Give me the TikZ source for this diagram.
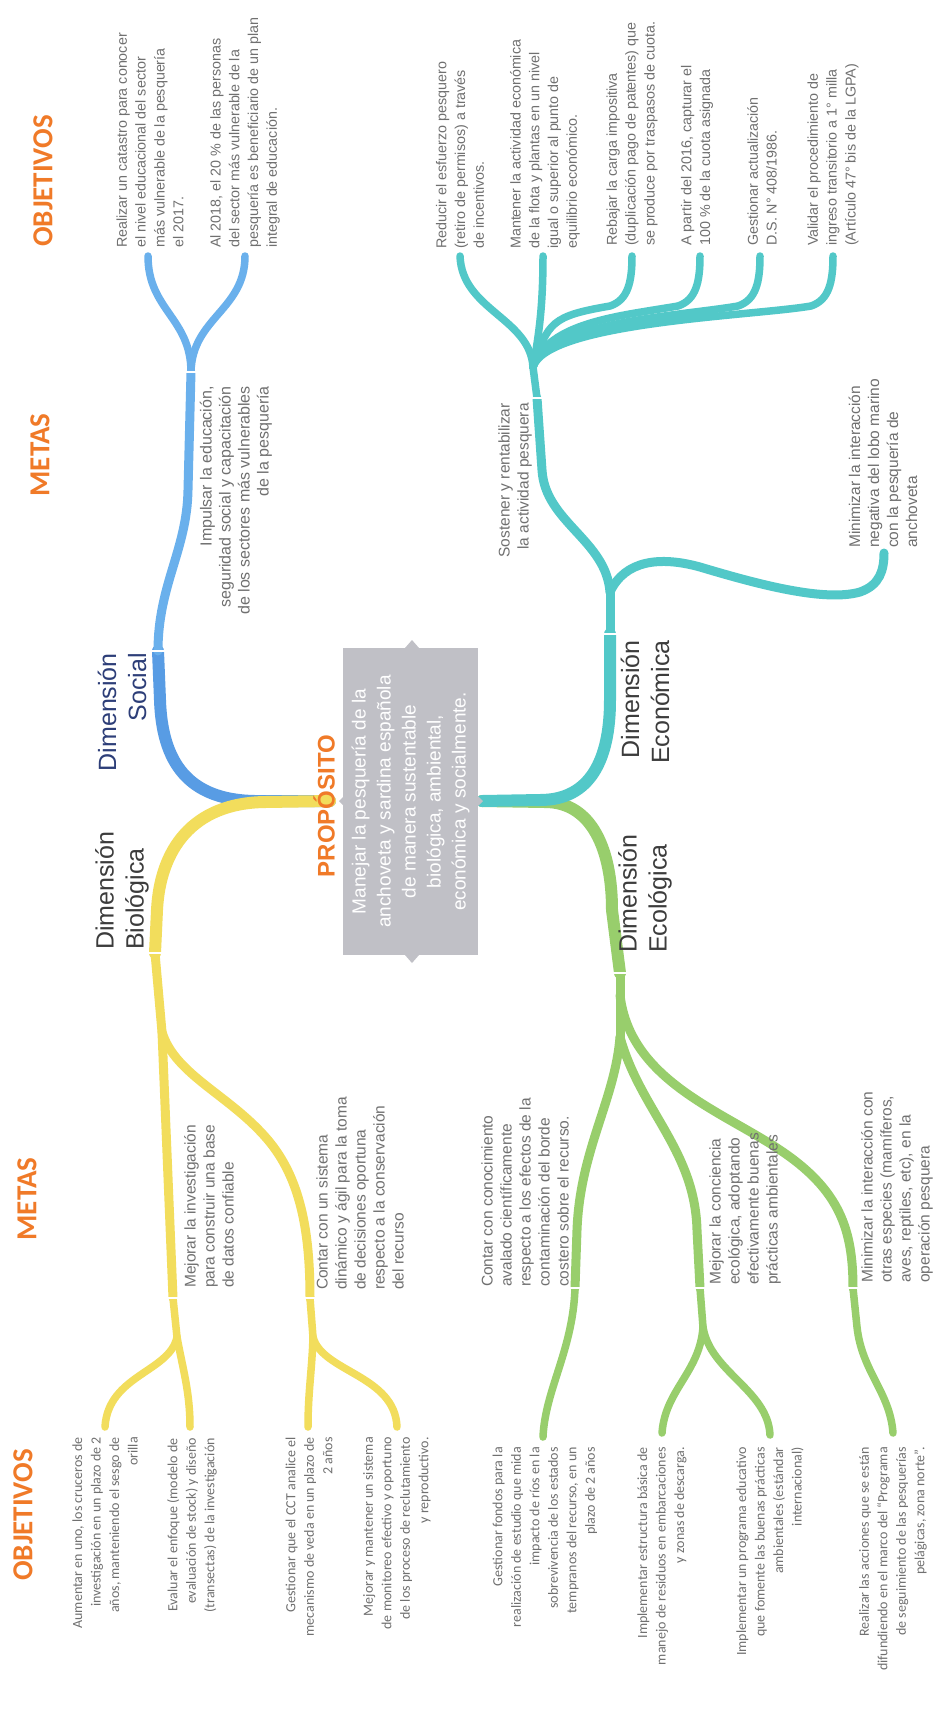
\documentclass[tikz,border=0pt]{standalone}
\usepackage{fontspec}
\usetikzlibrary{calc}
\setmainfont{Liberation Sans}
\newfontfamily\calib{Carlito}
\definecolor{orng}{RGB}{240,122,40}
\definecolor{blueA}{RGB}{88,156,228}
\definecolor{blueB}{RGB}{106,176,236}
\definecolor{yel}{RGB}{242,221,92}
\definecolor{grn}{RGB}{152,206,108}
\definecolor{teal2}{RGB}{82,200,200}
\definecolor{boxgray}{RGB}{192,192,198}
\definecolor{txtgray}{RGB}{112,112,112}
\definecolor{dimgray}{RGB}{60,60,60}
\definecolor{navy2}{RGB}{45,62,120}
\tikzset{
  brD/.style={line width=12pt, line cap=round},
  brM/.style={line width=9pt, line cap=round},
  brO/.style={line width=7.5pt, line cap=round},
  mk/.style={draw=white, line width=1.6pt},
  hdr/.style={rotate=90, inner sep=0pt, text=orng, font=\calib\bfseries\fontsize{29}{33}\selectfont},
  dimtxt/.style={rotate=90, inner sep=0pt, text=dimgray, font=\fontsize{25}{30}\selectfont},
  metatxt/.style={rotate=90, inner sep=0pt, text=txtgray, font=\fontsize{15.5}{19}\selectfont},
  objA/.style={rotate=90, inner sep=0pt, text=txtgray, font=\fontsize{14.3}{18.8}\selectfont},
  objC/.style={rotate=90, inner sep=0pt, text=txtgray, font=\calib\fontsize{14}{18.5}\selectfont},
  tri/.style={fill=boxgray, draw=none},
}
\begin{document}
\begin{tikzpicture}[x=1pt,y=-1pt]
\useasboundingbox (0,0) rectangle (947,1711);
\fill[white] (0,0) rectangle (947,1711);

% ---------- key points ----------
\coordinate (cL) at (330,801);
\coordinate (cR) at (482,801);
\coordinate (mSoc) at (158,651);
\coordinate (sSoc) at (191,372);
\coordinate (eS1) at (148,256);
\coordinate (eS2) at (245,256);
\coordinate (mBio) at (155,953);
\coordinate (sBio) at (162,1032);
\coordinate (mB1) at (173,1298);
\coordinate (sB1) at (177,1337);
\coordinate (mB2) at (310,1298);
\coordinate (sB2) at (313,1337);
\coordinate (eB1) at (105,1427);
\coordinate (eB2) at (190,1427);
\coordinate (eB3) at (308,1427);
\coordinate (eB4) at (397,1427);
\coordinate (mEco) at (620,973);
\coordinate (sEco) at (620,1037);
\coordinate (sEco0) at (620,995);
\coordinate (mG1) at (575,1288);
\coordinate (mG2) at (700,1288);
\coordinate (sG2) at (703,1327);
\coordinate (mG3) at (853,1288);
\coordinate (sG3) at (857,1327);
\coordinate (eG1) at (543,1437);
\coordinate (eG2) at (662,1433);
\coordinate (eG3) at (770,1435);
\coordinate (eG4) at (893,1433);
\coordinate (mEcon) at (610,634);
\coordinate (sEcon) at (610,592);
\coordinate (mT1) at (537,398);
\coordinate (sT1) at (533,367);
\coordinate (eT0) at (884,553);
\coordinate (eT1) at (460,256);
\coordinate (eT2) at (543,256);
\coordinate (eT3) at (632,256);
\coordinate (eT4) at (700,256);
\coordinate (eT5) at (760,256);
\coordinate (eT6) at (833,256);

% ---------- Social (blue) ----------
\draw[brD, blueA] (cL) -- (255,801) .. controls (188,800) and (162,762) .. (160,700) -- (mSoc);
\draw[brM, blueB] (mSoc) .. controls (158,585) and (187,550) .. (188,490) -- (sSoc);
\draw[brO, blueB] (sSoc) .. controls (191,318) and (148,310) .. (eS1);
\draw[brO, blueB] (sSoc) .. controls (192,318) and (245,310) .. (eS2);

% ---------- Biologica (yellow) ----------
\draw[brD, yel] (cL) -- (265,802) .. controls (192,803) and (160,850) .. (157,910) -- (mBio);
\draw[brM, yel] (mBio) -- (sBio);
\draw[brM, yel] (sBio) -- (mB1);
\draw[brM, yel] (sBio) .. controls (175,1075) and (230,1095) .. (268,1140) .. controls (300,1178) and (310,1230) .. (mB2);
\draw[brO, yel] (mB1) -- (sB1);
\draw[brO, yel] (sB1) .. controls (170,1372) and (108,1375) .. (eB1);
\draw[brO, yel] (sB1) .. controls (183,1370) and (190,1392) .. (eB2);
\draw[brO, yel] (mB2) -- (sB2);
\draw[brO, yel] (sB2) .. controls (312,1370) and (308,1392) .. (eB3);
\draw[brO, yel] (sB2) .. controls (322,1372) and (395,1375) .. (eB4);

% ---------- Ecologica (green) ----------
\draw[brD, grn] (cR) -- (545,802) .. controls (592,802) and (612,850) .. (612,910) -- (mEco);
\draw[brM, grn] (mEco) -- (sEco);
\draw[brM, grn] (sEco) .. controls (615,1100) and (580,1150) .. (577,1230) -- (mG1);
\draw[brM, grn] (sEco) .. controls (640,1110) and (695,1150) .. (697,1230) -- (mG2);
\draw[brM, grn] (sEco0) .. controls (630,1080) and (720,1110) .. (780,1150) .. controls (840,1190) and (853,1230) .. (mG3);
\draw[brO, grn] (mG1) .. controls (573,1350) and (545,1390) .. (eG1);
\draw[brO, grn] (mG2) -- (sG2);
\draw[brO, grn] (sG2) .. controls (700,1372) and (665,1390) .. (eG2);
\draw[brO, grn] (sG2) .. controls (710,1372) and (768,1390) .. (eG3);
\draw[brO, grn] (mG3) -- (sG3) .. controls (862,1372) and (890,1392) .. (eG4);

% ---------- Economica (teal) ----------
\draw[brD, teal2] (cR) -- (540,800) .. controls (590,800) and (610,760) .. (610,700) -- (mEcon);
\draw[brM, teal2] (mEcon) -- (sEcon);
\draw[brM, teal2] (sEcon) .. controls (606,540) and (545,522) .. (542,470) -- (mT1);
\draw[brM, teal2] (sEcon) .. controls (625,560) and (660,556) .. (700,567) .. controls (760,585) and (825,602) .. (860,592) .. controls (880,585) and (884,570) .. (eT0);
\draw[brO, teal2] (mT1) -- (sT1);
\draw[brO, teal2] (sT1) .. controls (530,318) and (462,310) .. (eT1);
\draw[brO, teal2] (sT1) .. controls (540,330) and (543,300) .. (eT2);
\foreach \e/\xx in {eT3/632,eT4/700,eT5/760,eT6/833}{
  \draw[brO, teal2] (sT1) .. controls (548,322) and ({\xx-80},316) .. ({\xx-22},306) .. controls ({\xx-4},300) and (\xx,282) .. (\e);
}

% ---------- markers ----------
\foreach \p in {mSoc,sSoc,mBio,mB1,mB2,mEco,mG1,mG2,mG3,mEcon,mT1}{
  \draw[mk] ($(\p)+(-7,0)$) -- ($(\p)+(7,0)$);
}

% ---------- centre ----------
\fill[tri] (412,640) -- (405,648) -- (419,648) -- cycle;
\fill[tri] (412,963) -- (405,955) -- (419,955) -- cycle;
\fill[tri] (339,801) -- (345,795) -- (345,807) -- cycle;
\fill[tri] (483,801) -- (477,795) -- (477,807) -- cycle;
\node[rotate=90, fill=boxgray, minimum width=307pt, minimum height=135pt, inner sep=0pt,
      text=white, align=center, font=\fontsize{19}{25}\selectfont] (box) at (410.5,801.5)
  {Manejar la pesquería de la\\anchoveta y sardina española\\de manera sustentable\\biológica, ambiental,\\económica y socialmente.};
\node[rotate=90, inner sep=0pt, text=orng, font=\bfseries\fontsize{24}{28}\selectfont] (prop) at (324,806) {PROPÓSITO};

% ---------- headers ----------
\node[hdr] (h1) at (43,181) {OBJETIVOS};
\node[hdr] (h2) at (40,455) {METAS};
\node[hdr] (h3) at (27,1199) {METAS};
\node[hdr] (h4) at (23,1515) {OBJETIVOS};

% ---------- dimension labels ----------
\node[dimtxt, text=navy2, align=right, anchor=east] (dSoc) at (122,653) {Dimensión\\Social};
\node[dimtxt, align=left, anchor=west] (dBio) at (122,950) {Dimensión\\Biológica};
\node[dimtxt, align=right, anchor=east] (dEcon) at (645,640) {Dimensión\\Económica};
\node[dimtxt, align=left, anchor=west] (dEco) at (645,953) {Dimensión\\Ecológica};

% ---------- metas ----------
\node[metatxt, align=right, anchor=east, font=\fontsize{16}{19}\selectfont] (tSoc) at (236,386)
  {Impulsar la educación,\\seguridad social y capacitación\\de los sectores más vulnerables\\de la pesquería};
\node[metatxt, align=left, anchor=west] (tB1) at (209,1288)
  {Mejorar la investigación\\para construir una base\\de datos confiable};
\node[metatxt, align=left, anchor=west] (tB2) at (360,1290)
  {Contar con un sistema\\dinámico y ágil para la toma\\de decisiones oportuna\\respecto a la conservación\\del recurso};
\node[metatxt, align=left, anchor=west] (tG1) at (525,1287)
  {Contar con conocimiento\\avalado científicamente\\respecto a los efectos de la\\contaminación del borde\\costero sobre el recurso.};
\node[metatxt, align=left, anchor=west] (tG2) at (745,1285)
  {Mejorar la conciencia\\ecológica, adoptando\\efectivamente buenas\\prácticas ambientales};
\node[metatxt, align=left, anchor=west] (tG3) at (897,1283)
  {Minimizar la interacción con\\otras especies (mamíferos,\\aves, reptiles, etc), en la\\operación pesquera};
\node[metatxt, align=right, anchor=east] (tT1) at (515,403)
  {Sostener y rentabilizar\\la actividad pesquera};
\node[metatxt, align=left, anchor=west] (tT2) at (883,548)
  {Minimizar la interacción\\negativa del lobo marino\\con la pesquería de\\anchoveta};

% ---------- objetivos (social) ----------
\node[objA, align=left, anchor=west] (oS1) at (150,248)
  {Realizar un catastro para conocer\\el nivel educacional del sector\\más vulnerable de la pesquería\\el 2017.};
\node[objA, align=left, anchor=west] (oS2) at (245,248)
  {Al 2018, el 20 \% de las personas\\del sector más vulnerable de la\\pesquería es beneficiario de un plan\\integral de educación.};

% ---------- objetivos (economica) ----------
\node[objA, align=left, anchor=west] (oT1) at (460,249)
  {Reducir el esfuerzo pesquero\\(retiro de permisos) a través\\de incentivos.};
\node[objA, align=left, anchor=west] (oT2) at (545,249)
  {Mantener la actividad económica\\de la flota y plantas en un nivel\\igual o superior al punto de\\equilibrio económico.};
\node[objA, align=left, anchor=west] (oT3) at (632,246)
  {Rebajar la carga impositiva\\(duplicación pago de patentes) que\\se produce por traspasos de cuota.};
\node[objA, align=left, anchor=west] (oT4) at (697,246)
  {A partir del 2016, capturar el\\100 \% de la cuota asignada};
\node[objA, align=left, anchor=west] (oT5) at (762,246)
  {Gestionar actualización\\D.S. N° 408/1986.};
\node[objA, align=left, anchor=west] (oT6) at (833,246)
  {Validar el procedimiento de\\ingreso transitorio a 1° milla\\(Artículo 47° bis de la LGPA)};

% ---------- objetivos (biologica) ----------
\node[objC, align=right, anchor=east] (oB1) at (105,1437)
  {Aumentar en uno, los cruceros de\\investigación en un plazo de 2\\años, manteniendo el sesgo de\\orilla};
\node[objC, align=right, anchor=east] (oB2) at (192,1438)
  {Evaluar el enfoque (modelo de\\evaluación de stock) y diseño\\(transectas) de la investigación};
\node[objC, align=right, anchor=east] (oB3) at (309,1437)
  {Gestionar que el CCT analice el\\mecanismo de veda en un plazo de\\2 años};
\node[objC, align=right, anchor=east] (oB4) at (397,1437)
  {Mejorar y mantener un sistema\\de monitoreo efectivo y oportuno\\de los proceso de reclutamiento\\y reproductivo.};

% ---------- objetivos (ecologica) ----------
\node[objC, align=right, anchor=east] (oG1) at (545,1447)
  {Gestionar fondos para la\\realización de estudio que mida\\impacto de ríos en la\\sobrevivencia de los estados\\tempranos del recurso, en un\\plazo de 2 años};
\node[objC, align=right, anchor=east] (oG2) at (662,1447)
  {Implementar estructura básica de\\manejo de residuos en embarcaciones\\y zonas de descarga.};
\node[objC, align=right, anchor=east] (oG3) at (770,1447)
  {Implementar un programa educativo\\que fomente las buenas prácticas\\ambientales (estándar\\internacional)};
\node[objC, align=right, anchor=east] (oG4) at (893,1447)
  {Realizar las acciones que se están\\difundiendo en el marco del “Programa\\de seguimiento de las pesquerías\\pelágicas, zona norte”.};
\end{tikzpicture}
\end{document}
